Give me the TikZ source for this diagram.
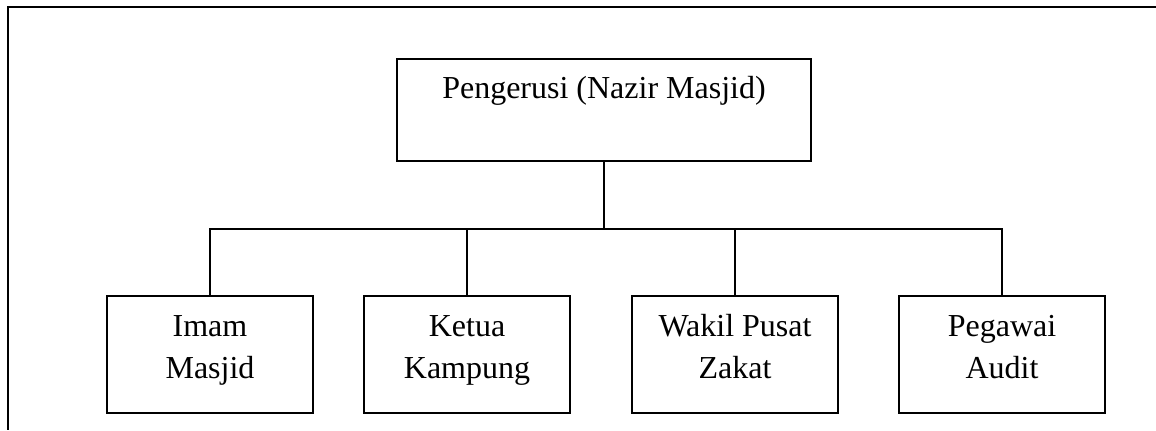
\documentclass[tikz,border=0pt]{standalone}
\usepackage{fontspec}
\setmainfont{Liberation Serif}
\usetikzlibrary{positioning}
\tikzstyle{every node}=[font=\fontsize{12}{15.4}\selectfont, align=center]
\tikzstyle{topbox}=[draw, line width=0.8pt, inner sep=0pt, minimum width=155.25pt, text height=14.625pt, text depth=23.625pt]
\tikzstyle{unitbox}=[draw, line width=0.8pt, inner sep=0pt, minimum width=77.25pt, text height=30.75pt, text depth=13.125pt]
\tikzstyle{line}=[draw, line width=0.8pt]

\begin{document}
\begin{tikzpicture}[x=0.375pt,y=-0.375pt]
    \useasboundingbox (0,0) rectangle (1156,430);
    % page frame, open at the bottom and right
    \draw[line width=0.9pt] (1156,7) -- (8,7) -- (8,430);

    \coordinate (chairPos) at (604,110);
    \coordinate (imamPos) at (210,354.5);
    \coordinate (ketuaPos) at (467,354.5);
    \coordinate (wakilPos) at (735,354.5);
    \coordinate (auditPos) at (1002,354.5);

    \node [topbox] (chairNode) at (chairPos) {Pengerusi (Nazir Masjid)};

    \node [unitbox] (imamNode) at (imamPos) {Imam\\Masjid};
    \node [unitbox] (ketuaNode) at (ketuaPos) {Ketua\\Kampung};
    \node [unitbox] (wakilNode) at (wakilPos) {Wakil Pusat\\Zakat};
    \node [unitbox] (auditNode) at (auditPos) {Pegawai\\Audit};

    \path[line] (chairNode.south) -- ++(0,67) coordinate (hubNode);
    \foreach \unit in {imamNode,ketuaNode,wakilNode,auditNode}
        \path[line] (hubNode) -| (\unit.north);

  \end{tikzpicture}
\end{document}
